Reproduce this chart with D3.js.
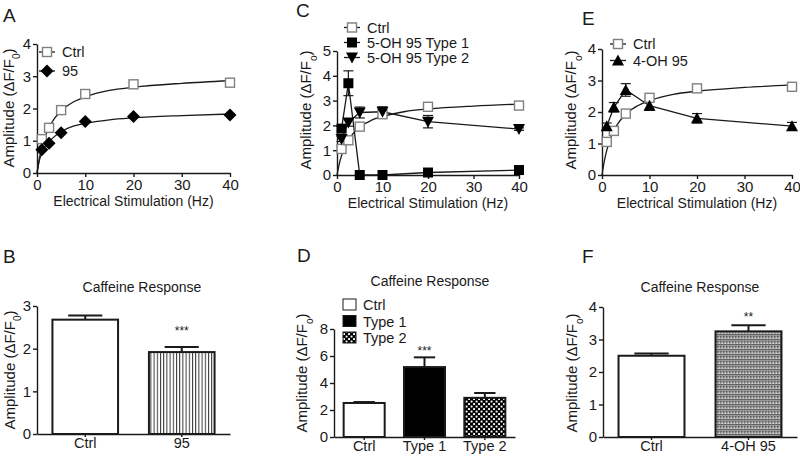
<!DOCTYPE html>
<html>
<head>
<meta charset="utf-8">
<script src="https://cdn.jsdelivr.net/npm/d3@7"></script>
<style>
  body { margin: 0; background: #fff; }
  text { font-family: Arial, "Liberation Sans", sans-serif; fill: #1a1a1a; }
</style>
</head>
<body>
<svg id="fig" width="800" height="456"></svg>
<script>
"use strict";

// stimulation frequencies (Hz)
const hz = [1, 2.5, 5, 10, 20, 40];

// line panels
const ctrlAmp = [1.05, 1.4, 1.95, 2.45, 2.75, 2.8];
const amp95 = [0.72, 0.92, 1.25, 1.6, 1.75, 1.8];
const type1Amp = [1.87, 3.7, 0, 0, 0.1, 0.2];
const type1Err = [0.1, 0.5, 0, 0, 0.05, 0.05];
const type2Amp = [1.45, 2.12, 2.52, 2.55, 2.15, 1.85];
const type2Err = [0.1, 0.15, 0.22, 0.2, 0.25, 0.05];
const oh4Amp = [1.55, 2.15, 2.7, 2.2, 1.8, 1.55];
const oh4Err = [0.1, 0.15, 0.2, 0.15, 0.15, 0.12];

// fitted curves
const fitHz = [0, 0.5, 1, 2, 3, 5, 7.5, 10, 15, 20, 30, 40];
const ctrlFit = [0, 0.45, 0.78, 1.25, 1.55, 1.93, 2.2, 2.36, 2.56, 2.66, 2.78, 2.86];
const fit95 = [0, 0.4, 0.62, 0.9, 1.05, 1.28, 1.45, 1.54, 1.65, 1.71, 1.78, 1.83];

// caffeine bar panels
const catsB = ["Ctrl", "95"];
const valsB = [2.68, 1.92];
const errB = [0.1, 0.12];
const catsD = ["Ctrl", "Type 1", "Type 2"];
const valsD = [2.52, 5.18, 2.9];
const errD = [0.07, 0.72, 0.36];
const catsF = ["Ctrl", "4-OH 95"];
const valsF = [2.5, 3.25];
const errF = [0.07, 0.19];

const xTicks = [0, 10, 20, 30, 40];

const svg = d3.select("#fig");
svg.append("rect").attr("width", 800).attr("height", 456).attr("fill", "#fff");

// fill patterns
const defs = svg.append("defs");
const stripe = defs.append("pattern").attr("id", "stripes")
  .attr("patternUnits", "userSpaceOnUse").attr("width", 3.2).attr("height", 4);
stripe.append("rect").attr("width", 3.2).attr("height", 4).attr("fill", "#fff");
stripe.append("rect").attr("x", 0).attr("width", 1).attr("height", 4).attr("fill", "#333");

const checker = defs.append("pattern").attr("id", "checker")
  .attr("patternUnits", "userSpaceOnUse").attr("width", 5).attr("height", 5);
checker.append("rect").attr("width", 5).attr("height", 5).attr("fill", "#000");
checker.append("rect").attr("x", 0.6).attr("y", 0.6).attr("width", 1.9).attr("height", 1.9).attr("fill", "#fff");
checker.append("rect").attr("x", 3.1).attr("y", 3.1).attr("width", 1.9).attr("height", 1.9).attr("fill", "#fff");

const dots = defs.append("pattern").attr("id", "dots")
  .attr("patternUnits", "userSpaceOnUse").attr("width", 3).attr("height", 5);
dots.append("rect").attr("width", 3).attr("height", 5).attr("fill", "#9a9a9a");
dots.append("rect").attr("x", 0).attr("y", 1).attr("width", 1.5).attr("height", 1.5).attr("fill", "#5a5a5a");
dots.append("rect").attr("x", 1.5).attr("y", 2.5).attr("width", 1.5).attr("height", 1.5).attr("fill", "#cfcfcf");
dots.append("rect").attr("x", 0).attr("y", 4.2).attr("width", 3).attr("height", 0.8).attr("fill", "#555");

// marker shapes
function marker(g, type, x, y) {
  if (type === "openSquare") {
    g.append("rect").attr("x", x - 4.5).attr("y", y - 4.5).attr("width", 9).attr("height", 9)
      .attr("fill", "#fff").attr("stroke", "#808080").attr("stroke-width", 1.4);
  } else if (type === "square") {
    g.append("rect").attr("x", x - 5).attr("y", y - 5).attr("width", 10).attr("height", 10).attr("fill", "#000");
  } else if (type === "diamond") {
    g.append("path").attr("d", `M${x},${y - 6.5}L${x + 6.5},${y}L${x},${y + 6.5}L${x - 6.5},${y}Z`).attr("fill", "#000");
  } else if (type === "triDown") {
    g.append("path").attr("d", `M${x - 6},${y - 5}L${x + 6},${y - 5}L${x},${y + 6}Z`).attr("fill", "#000");
  } else if (type === "triUp") {
    g.append("path").attr("d", `M${x - 6},${y + 5}L${x + 6},${y + 5}L${x},${y - 6}Z`).attr("fill", "#000");
  }
}

function subLabel(t, sub) {
  t.append("tspan").text("Amplitude (ΔF/F");
  t.append("tspan").attr("baseline-shift", "sub").attr("font-size", "10px").text(sub);
  t.append("tspan").text(")");
}

function panelLetter(letter, x, y) {
  svg.append("text").attr("x", x).attr("y", y).attr("font-size", "19px").text(letter);
}

function styleAxis(g) {
  g.select(".domain").attr("stroke", "#1a1a1a").attr("stroke-width", 1.4);
  g.selectAll(".tick line").attr("stroke", "#1a1a1a").attr("stroke-width", 1.4);
  g.selectAll(".tick text").attr("font-size", "15px").attr("fill", "#1a1a1a")
    .attr("font-family", "Arial, 'Liberation Sans', sans-serif");
}

function drawLinePanel(cfg) {
  const x = d3.scaleLinear().domain([0, 40]).range([cfg.left, cfg.right]);
  const y = d3.scaleLinear().domain([0, cfg.yMax]).range([cfg.bottom, cfg.top]);
  const g = svg.append("g");

  const ya = g.append("g").attr("transform", `translate(${cfg.left},0)`)
    .call(d3.axisLeft(y).ticks(cfg.yMax).tickSize(4).tickSizeOuter(0).tickPadding(2).tickFormat(d3.format("d")));
  styleAxis(ya);
  const xa = g.append("g").attr("transform", `translate(0,${cfg.bottom})`)
    .call(d3.axisBottom(x).tickValues(xTicks).tickSize(4).tickSizeOuter(0).tickPadding(2));
  styleAxis(xa);

  g.append("text").attr("x", (cfg.left + cfg.right) / 2).attr("y", cfg.bottom + 33)
    .attr("text-anchor", "middle").attr("font-size", "14px").text("Electrical Stimulation (Hz)");
  const yl = g.append("text").attr("transform", `translate(${cfg.yLabelX},${cfg.yLabelY}) rotate(-90)`)
    .attr("text-anchor", "middle").attr("font-size", "15px");
  subLabel(yl, cfg.sub);

  const smooth = d3.line().x(d => x(d[0])).y(d => y(d[1])).curve(d3.curveMonotoneX);
  const straight = d3.line().x(d => x(d[0])).y(d => y(d[1]));

  cfg.series.forEach(s => {
    const pts = s.fitY ? fitHz.map((h, i) => [h, s.fitY[i]]) : hz.map((h, i) => [h, s.vals[i]]);
    g.append("path").datum(pts).attr("d", s.fitY ? smooth : straight)
      .attr("fill", "none").attr("stroke", "#1a1a1a").attr("stroke-width", 1.3);
  });
  cfg.series.forEach(s => {
    if (s.err) {
      hz.forEach((h, i) => {
        if (!s.err[i]) return;
        const cx = x(h), y1 = y(s.vals[i] + s.err[i]), y2 = y(Math.max(0, s.vals[i] - s.err[i]));
        g.append("line").attr("x1", cx).attr("x2", cx).attr("y1", y1).attr("y2", y2)
          .attr("stroke", "#1a1a1a").attr("stroke-width", 1.2);
        [y1, y2].forEach(yy => g.append("line").attr("x1", cx - 5).attr("x2", cx + 5)
          .attr("y1", yy).attr("y2", yy).attr("stroke", "#1a1a1a").attr("stroke-width", 1.2));
      });
    }
  });
  cfg.series.forEach(s => {
    hz.forEach((h, i) => marker(g, s.marker, x(h), y(s.vals[i])));
  });

  // legend
  cfg.series.forEach((s, i) => {
    const ly = cfg.legY + i * cfg.legStep;
    g.append("line").attr("x1", cfg.legX - 8).attr("x2", cfg.legX + 8).attr("y1", ly).attr("y2", ly)
      .attr("stroke", "#1a1a1a").attr("stroke-width", 1.3);
    marker(g, s.marker, cfg.legX, ly);
    g.append("text").attr("x", cfg.legX + 15).attr("y", ly + 5).attr("font-size", "14.5px").text(s.name);
  });
}

function drawBarPanel(cfg) {
  const x = d3.scaleBand().domain(cfg.cats).range([cfg.left, cfg.right])
    .paddingInner(0.32).paddingOuter(0.16);
  const y = d3.scaleLinear().domain([0, cfg.yMax]).range([cfg.bottom, cfg.top]);
  const g = svg.append("g");

  const ya = g.append("g").attr("transform", `translate(${cfg.left},0)`)
    .call(d3.axisLeft(y).tickValues(cfg.yTicks).tickSize(4).tickSizeOuter(0).tickPadding(2).tickFormat(d3.format("d")));
  styleAxis(ya);
  const xa = g.append("g").attr("transform", `translate(0,${cfg.bottom})`)
    .call(d3.axisBottom(x).tickSize(3).tickSizeOuter(0).tickPadding(1));
  styleAxis(xa);
  xa.selectAll(".tick text").attr("font-size", "14.5px");

  g.append("text").attr("x", cfg.titleX).attr("y", cfg.titleY).attr("text-anchor", "middle")
    .attr("font-size", "14px").text("Caffeine Response");
  const yl = g.append("text").attr("transform", `translate(${cfg.yLabelX},${cfg.yLabelY}) rotate(-90)`)
    .attr("text-anchor", "middle").attr("font-size", "15px");
  subLabel(yl, cfg.sub);

  cfg.cats.forEach((c, i) => {
    const bx = x(c), bw = x.bandwidth(), cx = bx + bw / 2;
    const top = y(cfg.vals[i]), et = y(cfg.vals[i] + cfg.err[i]);
    g.append("line").attr("x1", cx).attr("x2", cx).attr("y1", top).attr("y2", et)
      .attr("stroke", "#1a1a1a").attr("stroke-width", 2);
    g.append("line").attr("x1", cx - bw * 0.26).attr("x2", cx + bw * 0.26).attr("y1", et).attr("y2", et)
      .attr("stroke", "#1a1a1a").attr("stroke-width", 2);
    g.append("rect").attr("x", bx).attr("y", top).attr("width", bw).attr("height", cfg.bottom - top)
      .attr("fill", cfg.fills[i]).attr("stroke", "#1a1a1a").attr("stroke-width", 2);
  });

  g.append("text").attr("x", x(cfg.sigCat) + x.bandwidth() / 2).attr("y", y(cfg.sigLevel) + 7)
    .attr("text-anchor", "middle").attr("font-size", "12px").text(cfg.sigText);

  if (cfg.legend) {
    cfg.cats.forEach((c, i) => {
      const ly = cfg.legY + i * cfg.legStep;
      g.append("rect").attr("x", cfg.legX).attr("y", ly - 6).attr("width", 13).attr("height", 11)
        .attr("fill", cfg.fills[i]).attr("stroke", "#1a1a1a").attr("stroke-width", 1);
      g.append("text").attr("x", cfg.legX + 20).attr("y", ly + 5).attr("font-size", "14.5px").text(c);
    });
  }
}

// A
panelLetter("A", 3, 22);
drawLinePanel({
  left: 37, right: 230, top: 44, bottom: 173, yMax: 4, sub: "0",
  yLabelX: 14, yLabelY: 108, legX: 47, legY: 52, legStep: 19,
  series: [
    { name: "Ctrl", vals: ctrlAmp, fitY: ctrlFit, marker: "openSquare" },
    { name: "95", vals: amp95, fitY: fit95, marker: "diamond" }
  ]
});

// C
panelLetter("C", 296, 17);
drawLinePanel({
  left: 337, right: 519, top: 51, bottom: 175, yMax: 5, sub: "o",
  yLabelX: 311, yLabelY: 110, legX: 352, legY: 27.5, legStep: 15,
  series: [
    { name: "Ctrl", vals: ctrlAmp, fitY: ctrlFit, marker: "openSquare" },
    { name: "5-OH 95 Type 1", vals: type1Amp, err: type1Err, marker: "square" },
    { name: "5-OH 95 Type 2", vals: type2Amp, err: type2Err, marker: "triDown" }
  ]
});

// E
panelLetter("E", 582, 25);
drawLinePanel({
  left: 602, right: 792, top: 49, bottom: 175, yMax: 4, sub: "o",
  yLabelX: 576, yLabelY: 110, legX: 618, legY: 44, legStep: 16.5,
  series: [
    { name: "Ctrl", vals: ctrlAmp, fitY: ctrlFit, marker: "openSquare" },
    { name: "4-OH 95", vals: oh4Amp, err: oh4Err, marker: "triUp" }
  ]
});

// B
panelLetter("B", 3, 263);
drawBarPanel({
  cats: catsB, vals: valsB, err: errB, fills: ["#fff", "url(#stripes)"],
  left: 37, right: 230, top: 306, bottom: 434, yMax: 3, yTicks: [0, 1, 2, 3], sub: "0",
  titleX: 142, titleY: 292, yLabelX: 14.5, yLabelY: 370,
  sigCat: "95", sigLevel: 2.49, sigText: "***"
});

// D
panelLetter("D", 297, 262);
drawBarPanel({
  cats: catsD, vals: valsD, err: errD, fills: ["#fff", "#000", "url(#checker)"],
  left: 334, right: 515, top: 329, bottom: 437, yMax: 8, yTicks: [0, 2, 4, 6, 8], sub: "o",
  titleX: 430, titleY: 286, yLabelX: 307, yLabelY: 373,
  sigCat: "Type 1", sigLevel: 6.6, sigText: "***",
  legend: true, legX: 343, legY: 305, legStep: 16.5
});

// F
panelLetter("F", 582, 263);
drawBarPanel({
  cats: catsF, vals: valsF, err: errF, fills: ["#fff", "url(#dots)"],
  left: 603, right: 797, top: 307, bottom: 437, yMax: 4, yTicks: [0, 1, 2, 3, 4], sub: "o",
  titleX: 700, titleY: 292, yLabelX: 577, yLabelY: 373,
  sigCat: "4-OH 95", sigLevel: 3.77, sigText: "**"
});
</script>
</body>
</html>
